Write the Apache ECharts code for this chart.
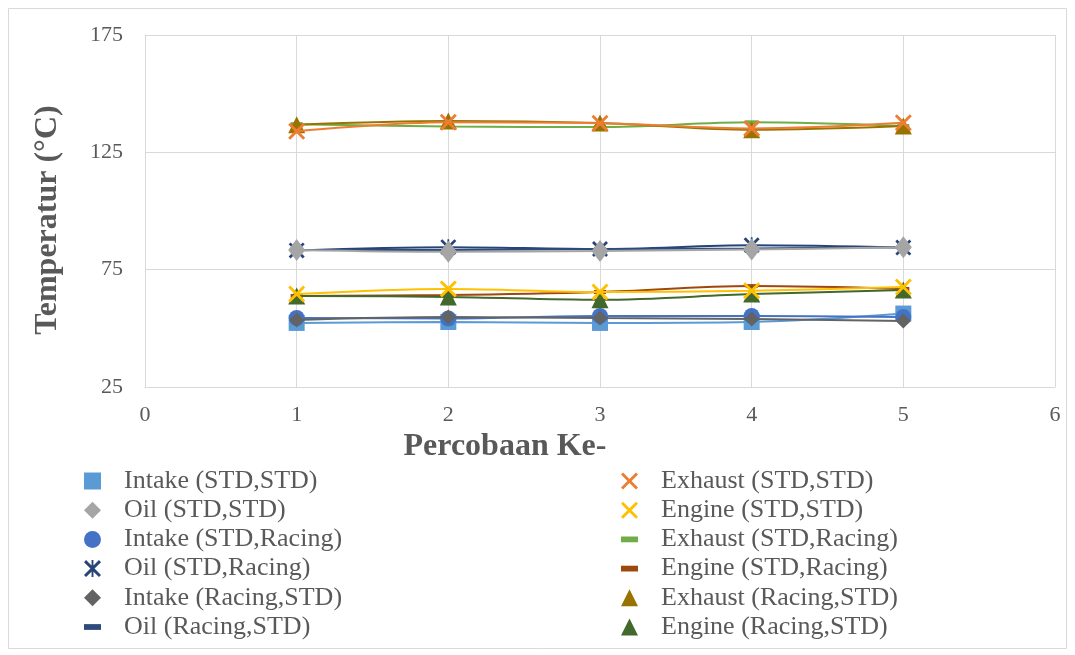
<!DOCTYPE html>
<html>
<head>
<meta charset="utf-8">
<title>Temperatur</title>
<script src="https://cdn.jsdelivr.net/npm/echarts@6/dist/echarts.min.js"></script>
<style>
  html, body { margin: 0; padding: 0; background: #ffffff; }
  #chart { width: 1075px; height: 655px; }
</style>
</head>
<body>
<div id="chart"></div>
<script>
// Trial number (Percobaan ke-)
const trials = [1, 2, 3, 4, 5];

// Temperatures in °C, configuration (STD,STD)
const intakeStdStd  = [52.3, 52.7, 52.3, 52.7, 56.3];
const exhaustStdStd = [134.0, 137.8, 137.4, 135.2, 137.6];
const oilStdStd     = [83.4, 82.6, 83.0, 83.6, 84.5];
const engineStdStd  = [64.6, 66.8, 65.5, 66.0, 67.6];

// Configuration (STD,Racing)
const intakeStdRacing  = [54.4, 54.2, 55.3, 55.3, 54.8];
const exhaustStdRacing = [137.0, 136.0, 135.8, 137.8, 136.2];
const oilStdRacing     = [83.2, 84.6, 83.8, 85.4, 84.4];
const engineStdRacing  = [63.8, 64.2, 65.5, 68.0, 66.8];

// Configuration (Racing,STD)
const intakeRacingStd  = [53.6, 54.8, 54.4, 54.0, 53.1];
const exhaustRacingStd = [136.8, 138.4, 137.5, 134.6, 136.2];
const oilRacingStd     = [83.4, 83.4, 83.8, 84.0, 84.6];
const engineRacingStd  = [63.8, 63.4, 62.2, 64.6, 66.3];

// Axis ticks
const yTicks = [25, 75, 125, 175];
const xTicks = [0, 1, 2, 3, 4, 5, 6];

// Marker shapes
const X_PATH = 'path://M1.2,0L5,3.8L8.8,0L10,1.2L6.2,5L10,8.8L8.8,10L5,6.2L1.2,10L0,8.8L3.8,5L0,1.2Z';
const STAR_PATH = 'path://M1.2,0L5,3.8L8.8,0L10,1.2L6.2,5L10,8.8L8.8,10L5,6.2L1.2,10L0,8.8L3.8,5L0,1.2Z M4.45,0L5.55,0L5.55,10L4.45,10Z';
const DASH_PATH = 'path://M0,0L10,0L10,3.4L0,3.4Z';

const seriesDefs = [
  { name: 'Intake (STD,STD)',     data: intakeStdStd,     color: '#5B9BD5', symbol: 'rect',     size: 16,       z: 2 },
  { name: 'Exhaust (STD,STD)',    data: exhaustStdStd,    color: '#ED7D31', symbol: X_PATH,     size: 17,       z: 14 },
  { name: 'Oil (STD,STD)',        data: oilStdStd,        color: '#A5A5A5', symbol: 'diamond',  size: [17, 22], z: 15 },
  { name: 'Engine (STD,STD)',     data: engineStdStd,     color: '#FFC000', symbol: X_PATH,     size: 17,       z: 16 },
  { name: 'Intake (STD,Racing)',  data: intakeStdRacing,  color: '#4472C4', symbol: 'circle',   size: 16,       z: 6 },
  { name: 'Exhaust (STD,Racing)', data: exhaustStdRacing, color: '#70AD47', symbol: DASH_PATH,  size: [12, 4],  z: 7 },
  { name: 'Oil (STD,Racing)',     data: oilStdRacing,     color: '#264478', symbol: STAR_PATH,  size: 16,       z: 8 },
  { name: 'Engine (STD,Racing)',  data: engineStdRacing,  color: '#9E480E', symbol: DASH_PATH,  size: [12, 4],  z: 9 },
  { name: 'Intake (Racing,STD)',  data: intakeRacingStd,  color: '#636363', symbol: 'diamond',  size: 15,       z: 10 },
  { name: 'Exhaust (Racing,STD)', data: exhaustRacingStd, color: '#997300', symbol: 'triangle', size: 17,       z: 11 },
  { name: 'Oil (Racing,STD)',     data: oilRacingStd,     color: '#2F4B7C', symbol: DASH_PATH,  size: [12, 4],  z: 12 },
  { name: 'Engine (Racing,STD)',  data: engineRacingStd,  color: '#43682B', symbol: 'triangle', size: 17,       z: 13 }
];

const FONT = '"Liberation Serif", "Times New Roman", serif';
const TEXT_COLOR = '#595959';
const GRID_COLOR = '#d9d9d9';

const legendItem = (d) => ({ name: d.name, icon: d.symbol });

// Legend reads row by row: left column holds the even entries, right column the odd ones
const leftNames  = seriesDefs.filter((d, i) => i % 2 === 0).map(legendItem);
const rightNames = seriesDefs.filter((d, i) => i % 2 === 1).map(legendItem);

const legendBase = {
  orient: 'vertical',
  top: 463,
  itemWidth: 17,
  itemHeight: 17,
  itemGap: 3.2,
  selectedMode: false,
  textStyle: { fontFamily: FONT, fontSize: 26, color: TEXT_COLOR, lineHeight: 26, padding: [0, 0, 0, 18] }
};

const chart = echarts.init(document.getElementById('chart'), null, { renderer: 'canvas' });

chart.setOption({
  backgroundColor: '#ffffff',
  animation: false,
  graphic: [{
    type: 'rect',
    shape: { x: 8.5, y: 8.5, width: 1058, height: 640 },
    style: { fill: 'none', stroke: GRID_COLOR, lineWidth: 1 },
    silent: true,
    z: -10
  }],
  grid: { left: 145, right: 20, top: 35, bottom: 268, containLabel: false },
  legend: [
    Object.assign({ left: 79, data: leftNames }, legendBase),
    Object.assign({ left: 616, data: rightNames }, legendBase)
  ],
  xAxis: {
    type: 'value',
    min: xTicks[0],
    max: xTicks[xTicks.length - 1],
    interval: 1,
    name: 'Percobaan Ke-',
    nameLocation: 'middle',
    nameGap: 44,
    nameTextStyle: { fontFamily: FONT, fontSize: 32, fontWeight: 'bold', color: TEXT_COLOR, padding: [0, 190, 0, 0] },
    axisLine: { show: true, lineStyle: { color: GRID_COLOR, width: 1 } },
    axisTick: { show: false },
    axisLabel: { fontFamily: FONT, fontSize: 22, color: TEXT_COLOR, margin: 17 },
    splitLine: { show: true, lineStyle: { color: GRID_COLOR, width: 1 } }
  },
  yAxis: {
    type: 'value',
    min: yTicks[0],
    max: yTicks[yTicks.length - 1],
    interval: 50,
    name: 'Temperatur (°C)',
    nameLocation: 'middle',
    nameGap: 81,
    nameTextStyle: { fontFamily: FONT, fontSize: 32, fontWeight: 'bold', color: TEXT_COLOR, padding: [0, 18, 0, 0] },
    axisLine: { show: true, lineStyle: { color: GRID_COLOR, width: 1 } },
    axisTick: { show: false },
    axisLabel: { fontFamily: FONT, fontSize: 22, color: TEXT_COLOR, margin: 22 },
    splitLine: { show: true, lineStyle: { color: GRID_COLOR, width: 1 } }
  },
  series: seriesDefs.map((d) => ({
    name: d.name,
    type: 'line',
    smooth: 0.35,
    data: trials.map((x, k) => [x, d.data[k]]),
    symbol: d.symbol,
    symbolSize: d.size,
    showAllSymbol: true,
    lineStyle: { color: d.color, width: 2 },
    itemStyle: { color: d.color, opacity: 1 },
    z: d.z
  }))
});
</script>
</body>
</html>
